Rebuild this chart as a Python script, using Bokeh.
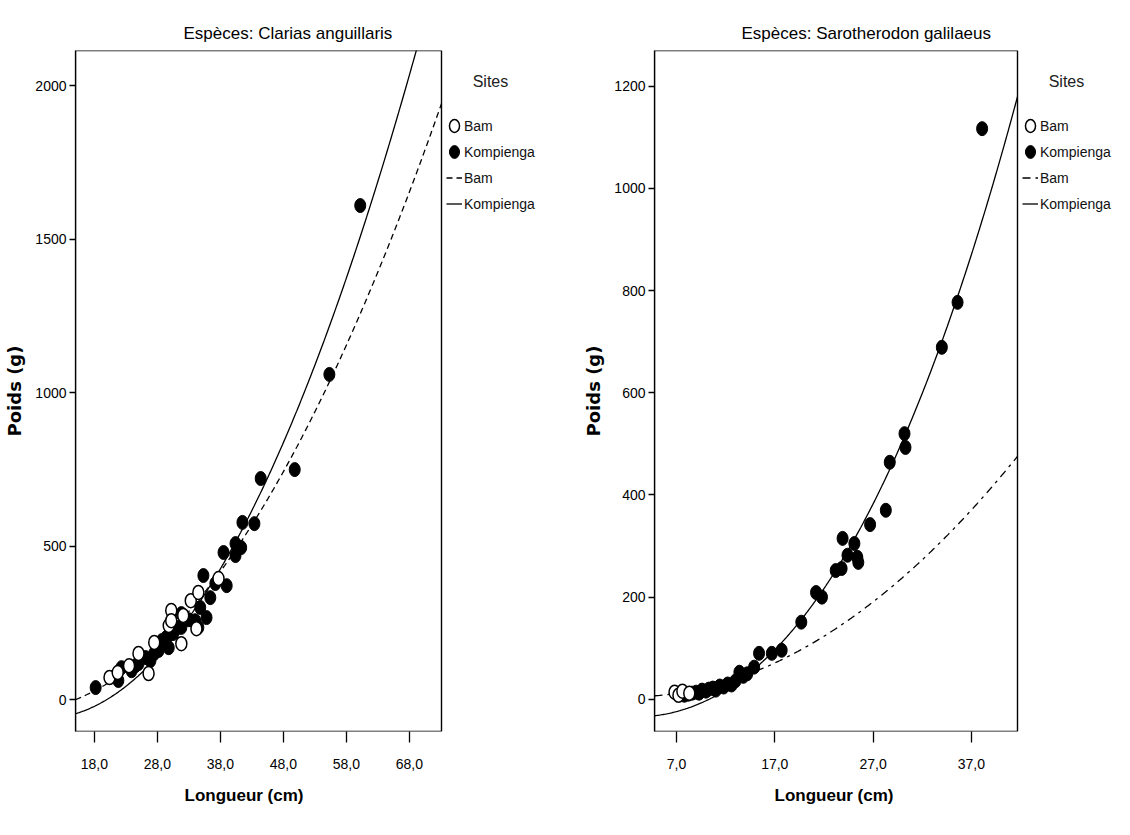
import numpy as np
from bokeh.plotting import figure
from bokeh.models import Legend, LegendItem, FixedTicker, Range1d, BoxAnnotation, Title
from bokeh.layouts import row
from bokeh.embed import file_html
from bokeh.resources import INLINE

# ---------------- Data: Clarias anguillaris ----------------
ca_bam_len = [20.4, 21.7, 23.5, 25.0, 26.6, 27.5, 29.8, 30.2, 30.2, 31.8, 32.1, 33.3, 34.2, 34.5, 37.7]
ca_bam_wt = [72, 88, 110, 150, 85, 186, 241, 290, 257, 182, 274, 322, 231, 349, 394]
ca_komp_len = [18.2, 21.8, 22.3, 23.9, 24.5, 25.0, 26.1, 26.9, 27.5, 28.2, 28.7, 29.4, 29.8, 30.5,
               31.3, 31.8, 31.8, 33.0, 34.0, 34.5, 34.8, 35.3, 35.8, 36.4, 37.2, 38.5, 39.0, 40.4,
               40.4, 41.3, 41.5, 43.4, 44.4, 49.8, 55.3, 60.2]
ca_komp_wt = [39, 62, 104, 94, 110, 117, 137, 127, 150, 160, 192, 202, 169, 215,
              235, 235, 280, 260, 257, 235, 300, 404, 267, 332, 378, 479, 371, 508,
              469, 495, 577, 573, 720, 749, 1059, 1609]
# points
ca_bam_fit_len = [15.0, 30.0, 54.5, 73.1]
ca_bam_fit_wt = [0, 220, 1000, 1941]
ca_komp_fit_len = [15.0, 33.0, 51.3, 69.1]
ca_komp_fit_wt = [-46, 267, 1000, 2114]
ca_xticks = [18.0, 28.0, 38.0, 48.0, 58.0, 68.0]
ca_yticks = [0, 500, 1000, 1500, 2000]

# ---------------- Data: Sarotherodon galilaeus ----------------
sg_bam_len = [6.8, 7.2, 7.6, 8.3]
sg_bam_wt = [14, 8, 16, 12]
sg_komp_len = [7.8, 8.2, 8.6, 9.0, 9.3, 9.6, 10.0, 10.3, 10.7, 11.0, 11.4, 11.8, 12.2, 12.6,
               13.0, 13.4, 13.8, 14.2, 14.9, 15.4, 16.7, 17.7, 19.7, 21.2, 21.8, 23.2, 23.8,
               23.9, 24.4, 25.1, 25.4, 25.5, 26.7, 28.3, 28.7, 30.2, 30.3, 34.0, 35.6, 38.1]
sg_komp_wt = [8, 10, 12, 14, 12, 18, 16, 20, 22, 18, 26, 24, 30, 28,
              36, 53, 45, 50, 63, 90, 90, 96, 151, 209, 200, 252, 256,
              315, 282, 305, 278, 268, 342, 370, 464, 520, 493, 689, 777, 1117]
sg_bam_fit_len = [4.76, 18.8, 23.6, 30.7, 41.7]
sg_bam_fit_wt = [6, 90, 145, 246, 477]
sg_komp_fit_len = [4.76, 7.3, 10.05, 14.4, 17.8, 22.6, 28.67, 33.96, 35.6, 41.7]
sg_komp_fit_wt = [-27, -25, -6, 47, 112, 239, 464, 689, 777, 1186]
sg_xticks = [7.0, 17.0, 27.0, 37.0]
sg_yticks = [0, 200, 400, 600, 800, 1000, 1200]

legend_title = "Sites"
site_names = ["Bam", "Kompienga"]
x_label = "Longueur (cm)"
y_label = "Poids (g)"

FONT = "Liberation Sans"
TOP, FRAME_H, BOTTOM = 50, 681, 87


def fit_curve(xs, ys, deg, x0, x1):
    c = np.polyfit(xs, ys, deg)
    gx = np.linspace(x0, x1, 300)
    return gx, np.polyval(c, gx)


def make_plot(title, title_off, xlab_off, xr, yr, xticks, yticks, bam_x, bam_y, komp_x, komp_y,
              bfx, bfy, bdeg, kfx, kfy, kdeg, dash, border_left, box_w, fig_w):
    # the drawing frame also holds the legend area; the plot box covers box_w pixels of it
    frame_w = fig_w - border_left
    x_end = xr[0] + frame_w * (xr[1] - xr[0]) / box_w
    p = figure(width=fig_w, height=TOP + FRAME_H + BOTTOM,
               output_backend="svg", toolbar_location=None,
               x_range=Range1d(xr[0], x_end), y_range=Range1d(*yr),
               min_border_left=border_left, min_border_right=0,
               min_border_top=TOP, min_border_bottom=BOTTOM)
    p.title.text = title
    p.title.align = "left"
    p.title.offset = title_off
    p.title.standoff = 16
    p.title.text_font = FONT
    p.title.text_font_size = "17px"
    p.title.text_font_style = "normal"
    p.title.text_color = "black"
    p.outline_line_color = None
    p.xgrid.visible = False
    p.ygrid.visible = False
    p.background_fill_color = "white"
    p.border_fill_color = "white"

    for ax in (p.xaxis[0], p.yaxis[0]):
        ax.axis_line_color = "black"
        ax.axis_line_width = 1.3
        ax.major_tick_line_color = "black"
        ax.major_tick_line_width = 1.3
        ax.minor_tick_line_color = None
        ax.major_tick_in = 0
        ax.major_label_text_font = FONT
        ax.major_label_text_font_size = "14px"
        ax.major_label_text_color = "black"
        ax.axis_label_text_color = "black"
    p.xaxis.axis_line_color = None
    p.xaxis.ticker = FixedTicker(ticks=xticks)
    p.xaxis.major_label_overrides = {t: f"{t:.1f}".replace(".", ",") for t in xticks}
    p.xaxis.major_tick_out = 11
    p.xaxis.major_label_standoff = 16
    p.yaxis.ticker = FixedTicker(ticks=yticks)
    p.yaxis.major_tick_out = 6
    p.yaxis.major_label_standoff = 3
    p.yaxis.axis_label = y_label
    p.yaxis.axis_label_text_font = "DejaVu Sans"
    p.yaxis.axis_label_text_font_size = "18px"
    p.yaxis.axis_label_text_font_style = "bold"
    p.yaxis.axis_label_standoff = 7

    # x axis title placed under the plot box (the frame also spans the legend area)
    xt = Title(text=x_label, align="left", offset=xlab_off, standoff=24,
               text_font=FONT, text_font_size="17px", text_font_style="bold", text_color="black")
    p.add_layout(xt, "below")

    p.add_layout(BoxAnnotation(left=xr[0], right=xr[1], bottom=yr[0], top=yr[1],
                               fill_alpha=0, line_color="black", line_alpha=1.0, line_width=1.4))

    gx, gy = fit_curve(bfx, bfy, bdeg, xr[0], xr[1])
    r_bl = p.line(gx, gy, line_color="black", line_width=1.3, line_dash=dash)
    gx, gy = fit_curve(kfx, kfy, kdeg, xr[0], xr[1])
    r_kl = p.line(gx, gy, line_color="black", line_width=1.3)

    r_kp = p.ellipse(komp_x, komp_y, width=11, height=14, width_units="screen", height_units="screen",
                     fill_color="black", line_color="black", line_width=1)
    r_bp = p.ellipse(bam_x, bam_y, width=11, height=14, width_units="screen", height_units="screen",
                     fill_color="white", line_color="black", line_width=1.5)

    legend = Legend(items=[LegendItem(label=site_names[0], renderers=[r_bp]),
                           LegendItem(label=site_names[1], renderers=[r_kp]),
                           LegendItem(label=site_names[0], renderers=[r_bl]),
                           LegendItem(label=site_names[1], renderers=[r_kl])],
                    title="\u00a0\u00a0\u00a0\u00a0\u00a0\u00a0" + legend_title,
                    location=(box_w + 5, 519))
    legend.title_text_font = FONT
    legend.title_text_font_size = "16px"
    legend.title_text_font_style = "normal"
    legend.title_text_color = "#222222"
    legend.title_standoff = 26
    legend.label_text_font = FONT
    legend.label_text_font_size = "14px"
    legend.label_text_color = "#111111"
    legend.label_standoff = 2
    legend.glyph_width = 16
    legend.glyph_height = 17
    legend.label_height = 17
    legend.spacing = 9
    legend.padding = 0
    legend.margin = 0
    legend.border_line_color = None
    legend.background_fill_alpha = 0
    p.add_layout(legend)
    return p


p1 = make_plot("Espèces: Clarias anguillaris", 108, 109, (15.0, 73.1), (-104, 2114), ca_xticks, ca_yticks,
               ca_bam_len, ca_bam_wt, ca_komp_len, ca_komp_wt,
               ca_bam_fit_len, ca_bam_fit_wt, 2, ca_komp_fit_len, ca_komp_fit_wt, 2, "6 4",
               75, 366, 570)
p2 = make_plot("Espèces: Sarotherodon galilaeus", 87, 120, (4.76, 41.7), (-63, 1270), sg_xticks, sg_yticks,
               sg_bam_len, sg_bam_wt, sg_komp_len, sg_komp_wt,
               sg_bam_fit_len, sg_bam_fit_wt, 2, sg_komp_fit_len, sg_komp_fit_wt, 3, "8 5 3 5",
               84, 363, 544)

layout = row(p1, p2)
open("out.html", "w").write(file_html(layout, INLINE))
